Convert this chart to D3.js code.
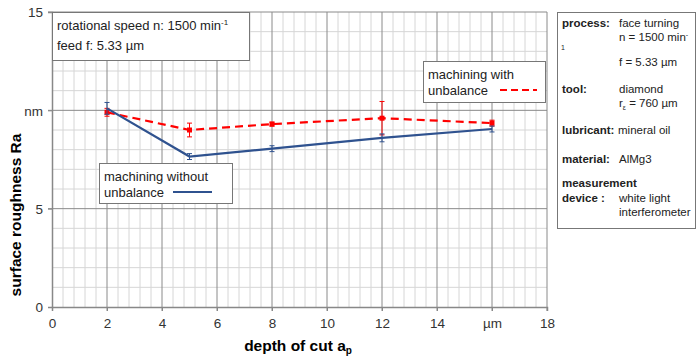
<!DOCTYPE html>
<html>
<head>
<meta charset="utf-8">
<script src="https://cdn.jsdelivr.net/npm/d3@7"></script>
<style>
  body { margin: 0; background: #fff; }
  svg { font-family: "Liberation Sans", Arial, sans-serif; }
</style>
</head>
<body>
<svg id="chart" width="698" height="361"></svg>
<script>
// data
depth = [2, 5, 8, 12, 16];
raWithout = [10.1, 7.65, 8.05, 8.6, 9.05];
errWithout = [0.3, 0.15, 0.15, 0.2, 0.15];
raWith = [9.9, 9.0, 9.3, 9.6, 9.35];
errWith = [0.2, 0.35, 0.1, 0.85, 0.15];
xTicks = [0, 2, 4, 6, 8, 10, 12, 14, 16, 18];
xTickLabels = ["0", "2", "4", "6", "8", "10", "12", "14", "µm", "18"];
yTicks = [0, 5, 10, 15];
yTickLabels = ["0", "5", "nm", "15"];

BLUE = "#2f528f";
RED = "#ff0000";

svg = d3.select("#chart");
x = d3.scaleLinear().domain([0, 18]).range([52, 547]);
y = d3.scaleLinear().domain([0, 15]).range([307, 12]);

// grid
grid = svg.append("g");
minorX = d3.range(0, 18.01, 0.4).filter(function(v){ return Math.abs(v / 2 - Math.round(v / 2)) > 0.01; });
grid.selectAll("line.mx").data(minorX).enter().append("line")
  .attr("x1", d => x(d)).attr("x2", d => x(d)).attr("y1", y(15)).attr("y2", y(0))
  .style("stroke", "#d6d6d6").style("stroke-width", 1);
minorY = d3.range(1, 15).filter(function(v){ return v % 5 != 0; });
grid.selectAll("line.my").data(minorY).enter().append("line")
  .attr("x1", x(0)).attr("x2", x(18)).attr("y1", d => y(d)).attr("y2", d => y(d))
  .style("stroke", "#d6d6d6").style("stroke-width", 1);
grid.selectAll("line.MX").data(xTicks.slice(1)).enter().append("line")
  .attr("x1", d => x(d)).attr("x2", d => x(d)).attr("y1", y(15)).attr("y2", y(0) + 4)
  .style("stroke", "#8a8a8a").style("stroke-width", 1);
grid.selectAll("line.MY").data(yTicks.slice(1)).enter().append("line")
  .attr("x1", x(0) - 4).attr("x2", x(18)).attr("y1", d => y(d)).attr("y2", d => y(d))
  .style("stroke", "#8a8a8a").style("stroke-width", 1);

// axes
xAxis = d3.axisBottom(x).tickValues(xTicks).tickSize(4).tickPadding(7)
  .tickFormat(function(d, i){ return xTickLabels[i]; });
gx = svg.append("g").attr("transform", "translate(0," + y(0) + ")").call(xAxis);
yAxis = d3.axisLeft(y).tickValues(yTicks).tickSize(4).tickPadding(5)
  .tickFormat(function(d, i){ return yTickLabels[i]; });
gy = svg.append("g").attr("transform", "translate(" + x(0) + ",0)").call(yAxis);
[gx, gy].forEach(function(g){
  g.select(".domain").style("stroke", "#888").style("stroke-width", 1.5);
  g.selectAll(".tick line").style("stroke", "#888");
  g.selectAll(".tick text").style("font-size", "13.5px").style("fill", "#333")
    .style("font-family", "Liberation Sans, Arial, sans-serif");
});
gy.selectAll(".tick text").attr("dy", "0.35em");

// axis titles
svg.append("text").attr("x", 298).attr("y", 351).attr("text-anchor", "middle")
  .style("font-size", "15.5px").style("font-weight", "bold")
  .text("depth of cut a")
  .append("tspan").attr("dy", 3).style("font-size", "10px").text("p");
svg.append("text").attr("transform", "translate(21,215) rotate(-90)").attr("text-anchor", "middle")
  .style("font-size", "15.5px").style("font-weight", "bold")
  .text("surface roughness Ra");

// series
function drawSeries(vals, errs, color, dashed, marker){
  var pts = depth.map(function(d, i){ return {x: d, y: vals[i], e: errs[i]}; });
  var g = svg.append("g");
  g.selectAll("line.err").data(pts).enter().append("line")
    .attr("x1", d => x(d.x)).attr("x2", d => x(d.x))
    .attr("y1", d => y(d.y - d.e)).attr("y2", d => y(d.y + d.e))
    .style("stroke", color).style("stroke-width", 1);
  g.selectAll("line.capt").data(pts).enter().append("line")
    .attr("x1", d => x(d.x) - 2.5).attr("x2", d => x(d.x) + 2.5)
    .attr("y1", d => y(d.y + d.e)).attr("y2", d => y(d.y + d.e))
    .style("stroke", color).style("stroke-width", 1);
  g.selectAll("line.capb").data(pts).enter().append("line")
    .attr("x1", d => x(d.x) - 2.5).attr("x2", d => x(d.x) + 2.5)
    .attr("y1", d => y(d.y - d.e)).attr("y2", d => y(d.y - d.e))
    .style("stroke", color).style("stroke-width", 1);
  var line = d3.line().x(d => x(d.x)).y(d => y(d.y));
  var p = g.append("path").datum(pts).attr("d", line)
    .style("fill", "none").style("stroke", color).style("stroke-width", 2.2);
  if (dashed) p.style("stroke-dasharray", "8,5");
  if (marker) {
    g.selectAll("rect").data(pts).enter().append("rect")
      .attr("x", d => x(d.x) - 2.5).attr("y", d => y(d.y) - 2.5)
      .attr("width", 5).attr("height", 5).style("fill", color);
  }
}
drawSeries(raWith, errWith, RED, true, true);
drawSeries(raWithout, errWithout, BLUE, false, false);

// boxes
function box(x0, y0, w, h){
  svg.append("rect").attr("x", x0 + 0.5).attr("y", y0 + 0.5).attr("width", w).attr("height", h)
    .style("fill", "#fff").style("stroke", "#777").style("stroke-width", 1);
}
function txt(x0, y0, s, size, bold){
  return svg.append("text").attr("x", x0).attr("y", y0).style("font-size", (size || 13) + "px")
    .style("font-weight", bold ? "bold" : "normal").style("fill", "#222").text(s);
}

box(52, 12, 197, 48);
t = txt(57, 30, "rotational speed n: 1500 min");
t.append("tspan").attr("dy", -5).style("font-size", "8px").text("-1");
txt(57, 50, "feed f: 5.33 µm");

box(423, 61, 122, 41);
txt(428, 79, "machining with");
txt(428, 95, "unbalance");
svg.append("line").attr("x1", 500).attr("x2", 537).attr("y1", 90).attr("y2", 90)
  .style("stroke", RED).style("stroke-width", 2.2).style("stroke-dasharray", "7,4");

box(99, 163, 133, 40);
txt(104, 181, "machining without");
txt(104, 197, "unbalance");
svg.append("line").attr("x1", 173).attr("x2", 212).attr("y1", 192).attr("y2", 192)
  .style("stroke", BLUE).style("stroke-width", 2.2);

// info panel
box(557, 12, 138, 216);
txt(562, 27, "process:", 11.5, true);
txt(619, 27, "face turning", 11.5);
t = txt(619, 41, "n = 1500 min", 11.5);
t.append("tspan").attr("dy", -4).style("font-size", "7px").text("-");
txt(561, 50, "1", 7);
txt(619, 66, "f = 5.33 µm", 11.5);
txt(562, 93, "tool:", 11.5, true);
txt(619, 93, "diamond", 11.5);
t = txt(619, 107, "r", 11.5);
t.append("tspan").attr("dy", 3).style("font-size", "7px").text("ε");
t.append("tspan").attr("dy", -3).text(" = 760 µm");
txt(562, 134, "lubricant:", 11.5, true);
txt(618, 134, "mineral oil", 11.5);
txt(562, 163, "material:", 11.5, true);
txt(619, 163, "AlMg3", 11.5);
txt(562, 187, "measurement", 11.5, true);
txt(562, 202, "device :", 11.5, true);
txt(619, 202, "white light", 11.5);
txt(619, 216, "interferometer", 11.5);
</script>
</body>
</html>
